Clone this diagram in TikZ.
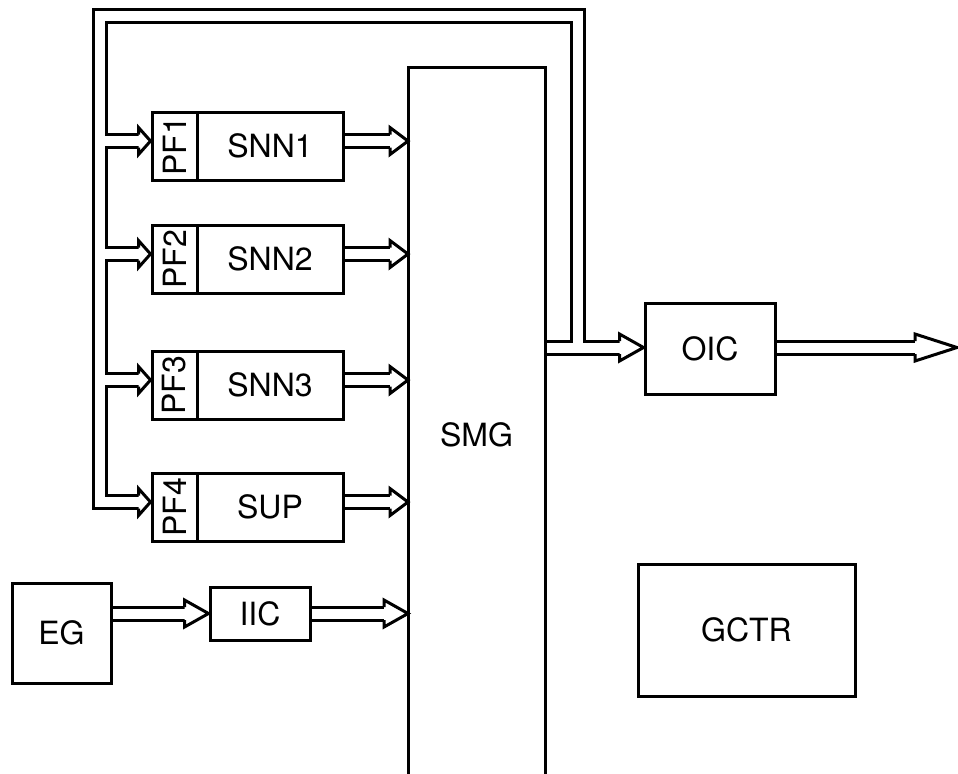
\documentclass[tikz,border=0pt]{standalone}
\usepackage{fontspec}
\setmainfont{TeX Gyre Heros}
\usetikzlibrary{backgrounds}

% open arrow head: tip at #2, length #1 (picture units)
\newcommand{\hollowhead}[2][18]{%
  \filldraw[arrhead] (#2) ++(-#1,-6.5) -- ++(0,-7) -- (#2) -- ++(-#1,13.5) -- ++(0,-7);}

\begin{document}
\begin{tikzpicture}[x=0.5pt, y=-0.5pt,
    box/.style={rectangle, draw, line width=1.5pt, fill=white, inner sep=0pt, font=\fontsize{16}{19}\selectfont},
    pipe/.style={line width=8pt, line join=miter},
    bore/.style={line width=5pt, line join=miter, white},
    arrhead/.style={draw=black, fill=white, line width=1.5pt, line join=miter}
]
    \useasboundingbox (0,0) rectangle (958,773);

    % filter + network rows
    \foreach \i/\txt/\y in {1/SNN1/146, 2/SNN2/259, 3/SNN3/385, 4/SUP/507} {
        \node[box, minimum width=22.5pt, minimum height=34pt] (pf\i) at (174.5,\y) {\rotatebox{90}{PF\i}};
        \node[box, minimum width=73pt, minimum height=34pt] (net\i) at (270,\y) {\txt};
        \coordinate (in\i) at ([yshift=2.5pt]pf\i.west);
        \coordinate (to\i) at ([yshift=2.5pt]net\i.east);
    }
    \node[box, draw=none, fill=none, outer sep=0pt, minimum width=68.5pt, minimum height=368pt] (smg) at (476.5,435) {SMG};
    \draw[line width=1.5pt] (smg.south west) -- (smg.north west) -- (smg.north east) -- (smg.south east);

    \node[box, minimum width=49.5pt, minimum height=50pt] (eg) at (61.5,633) {EG};
    \node[box, minimum width=50pt, minimum height=26.5pt] (iic) at (260,613.5) {IIC};
    \node[box, minimum width=65pt, minimum height=45.5pt] (oic) at (710,348.5) {OIC};
    \node[box, minimum width=108.5pt, minimum height=66pt] (gctr) at (746.5,630) {GCTR};

    \coordinate (nw) at (99.5,15.5);
    \coordinate (ne) at (578,15.5);
    \coordinate (out) at (957,347.5);

    \begin{scope}[on background layer]
        \foreach \s in {pipe, bore} {
            \draw[\s, shorten >=6pt] (ne |- out) -- (ne) -- (nw) -- (nw |- in4) -- (in4);
            \foreach \i in {1,2,3}
                \draw[\s, shorten >=6pt] (nw |- in\i) -- (in\i);
            \foreach \i in {1,...,4}
                \draw[\s, shorten >=9pt] (to\i) -- (to\i -| smg.west);
            \draw[\s, shorten >=12pt] (eg.east |- iic.west) -- (iic.west);
            \draw[\s, shorten >=12pt] (iic.east) -- (iic.east -| smg.west);
            \draw[\s, shorten >=12pt] (smg.east |- out) -- (oic.west |- out);
            \draw[\s, shorten >=21pt] (oic.east |- out) -- (out);
        }
        \foreach \i in {1,...,4} {
            \hollowhead[12]{in\i}
            \hollowhead{to\i -| smg.west}
        }
        \hollowhead[24]{iic.west}
        \hollowhead[24]{iic.east -| smg.west}
        \hollowhead[24]{oic.west |- out}
        \hollowhead[42]{out}
    \end{scope}
\end{tikzpicture}
\end{document}
